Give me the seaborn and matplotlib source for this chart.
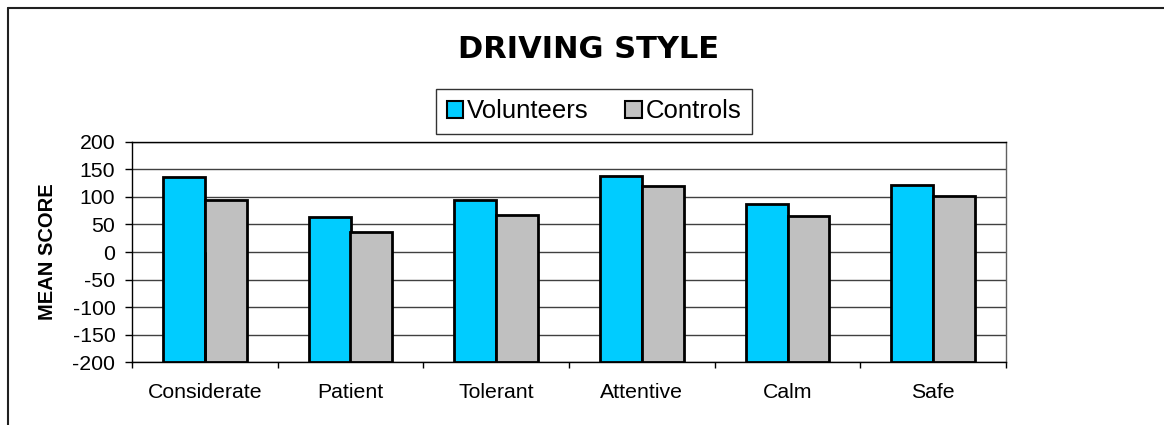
"""
Driving style bar chart: mean scores of volunteers vs controls.
Saves the figure to out.png.
"""

import numpy as np
import pandas as pd
import matplotlib.pyplot as plt
from matplotlib.lines import Line2D
import seaborn as sns

categories = ["Considerate", "Patient", "Tolerant", "Attentive", "Calm", "Safe"]
volunteers = [136, 63, 94, 137, 87, 121]
controls = [95, 37, 67, 119, 65, 102]
groups = ["Volunteers", "Controls"]
colors = {"Volunteers": "#00ccff", "Controls": "#c0c0c0"}
yticks = [200, 150, 100, 50, 0, -50, -100, -150, -200]
ymin, ymax = -200, 200


def main():
    df = pd.DataFrame({
        "category": categories * 2,
        "group": [groups[0]] * len(categories) + [groups[1]] * len(categories),
        "score": volunteers + controls,
    })

    sns.set_style("white")
    plt.rcParams["font.family"] = ["Liberation Sans", "DejaVu Sans"]
    for key in ["text.color", "axes.labelcolor", "xtick.color", "ytick.color"]:
        plt.rcParams[key] = "black"

    fig = plt.figure(figsize=(11.64, 4.25), dpi=100)
    ax = fig.add_axes([132 / 1164, 1 - 362.3 / 425, 874 / 1164, 220.6 / 425])

    sns.barplot(
        data=df, x="category", y="score", hue="group", order=categories,
        hue_order=groups, palette=colors, width=0.576, gap=0,
        edgecolor="black", linewidth=2, saturation=1, ax=ax, zorder=3,
    )

    # Excel-style: bars rise from the bottom of the value axis, not from 0
    for bar in ax.patches:
        top = bar.get_y() + bar.get_height()
        bar.set_y(ymin)
        bar.set_height(top - ymin)

    ax.set_ylim(ymin, ymax)
    ax.set_xlim(-0.5, len(categories) - 0.5)
    ax.set_yticks(yticks)
    ax.set_yticklabels([str(v) for v in yticks], fontsize=15.3)
    ax.yaxis.grid(True, color="#404040", linewidth=1)
    ax.set_axisbelow(True)
    ax.tick_params(axis="y", direction="out", length=5, width=1, color="black",
                   left=True, pad=7)

    # category labels in the middle, tick marks on the boundaries
    ax.set_xticks(range(len(categories)))
    ax.set_xticklabels(categories, fontsize=15.3)
    ax.set_xticks(np.arange(-0.5, len(categories)), minor=True)
    ax.tick_params(axis="x", which="major", length=0, pad=15)
    ax.tick_params(axis="x", which="minor", direction="out", length=4.5,
                   width=1, color="black", bottom=True)

    ax.set_xlabel("")
    ax.set_ylabel("MEAN SCORE", fontsize=14.5, fontweight="bold", labelpad=11)

    for side in ["left", "bottom", "top"]:
        ax.spines[side].set_color("black")
        ax.spines[side].set_linewidth(1)
    ax.spines["right"].set_color("#606060")
    ax.spines["right"].set_linewidth(1)

    leg = ax.legend(
        loc="center", bbox_to_anchor=(594 / 1164, 1 - 111.5 / 425),
        bbox_transform=fig.transFigure, ncol=2, fontsize=18.5,
        frameon=True, fancybox=False, edgecolor="black",
        handlelength=0.65, handleheight=0.65, handletextpad=0.15,
        columnspacing=1.4, borderpad=0.4,
    )
    leg.get_frame().set_linewidth(1)
    for patch in leg.get_patches():
        patch.set_linewidth(1.5)

    fig.text(589 / 1164, 1 - 49 / 425, "DRIVING STYLE", ha="center",
             va="center", fontsize=22, fontweight="black",
             family=["DejaVu Sans"])

    # outer chart frame (only top and left edges visible in the crop)
    fig.add_artist(Line2D([8 / 1164, 1], [1 - 8 / 425, 1 - 8 / 425],
                          color="#202020", linewidth=1.5))
    fig.add_artist(Line2D([8 / 1164, 8 / 1164], [0, 1 - 8 / 425],
                          color="#202020", linewidth=1.5))

    fig.savefig("out.png", dpi=100)
    plt.close(fig)


if __name__ == "__main__":
    main()
